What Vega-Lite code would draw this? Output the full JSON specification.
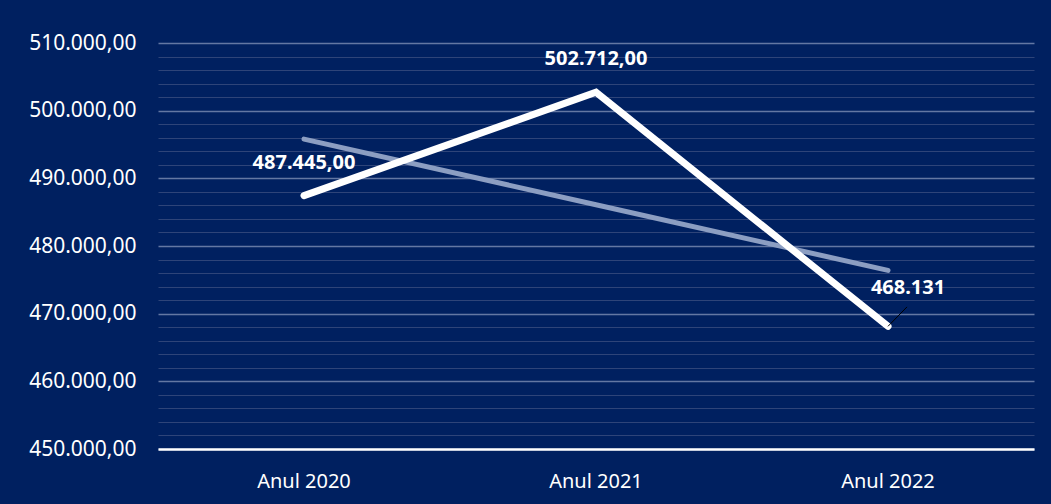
{
  "$schema": "https://vega.github.io/schema/vega-lite/v6.json",
  "width": 876,
  "height": 406,
  "autosize": "none",
  "padding": {"left": 158, "top": 43, "right": 17, "bottom": 55},
  "background": "#002060",
  "config": {
    "locale": {"number": {"decimal": ",", "thousands": ".", "grouping": [3], "currency": ["", ""]}},
    "view": {"stroke": null},
    "font": "Noto Sans"
  },
  "data": {
    "values": [
      {"an": "Anul 2020", "serie": "valoare", "valoare": 487445, "eticheta": "487.445,00"},
      {"an": "Anul 2021", "serie": "valoare", "valoare": 502712, "eticheta": "502.712,00"},
      {"an": "Anul 2022", "serie": "valoare", "valoare": 468131, "eticheta": "468.131"},
      {"an": "Anul 2020", "serie": "trend", "valoare": 495800, "eticheta": ""},
      {"an": "Anul 2021", "serie": "trend", "valoare": 486100, "eticheta": ""},
      {"an": "Anul 2022", "serie": "trend", "valoare": 476400, "eticheta": ""}
    ]
  },
  "encoding": {
    "x": {
      "field": "an",
      "type": "nominal",
      "sort": null,
      "axis": {
        "title": null,
        "labelAngle": 0,
        "labelColor": "white",
        "labelFontSize": 20,
        "labelPadding": 22,
        "ticks": false,
        "domain": true,
        "domainColor": "white",
        "domainWidth": 2.5,
        "grid": false
      }
    },
    "y": {
      "field": "valoare",
      "type": "quantitative",
      "scale": {"domain": [450000, 510000], "nice": false, "zero": false},
      "axis": {
        "title": null,
        "values": [450000, 452000, 454000, 456000, 458000, 460000, 462000, 464000, 466000, 468000, 470000, 472000, 474000, 476000, 478000, 480000, 482000, 484000, 486000, 488000, 490000, 492000, 494000, 496000, 498000, 500000, 502000, 504000, 506000, 508000, 510000],
        "format": ",.2f",
        "labelExpr": "datum.value % 10000 === 0 ? datum.label : ''",
        "labelColor": "white",
        "labelFontSize": 21,
        "labelPadding": 22,
        "ticks": false,
        "domain": false,
        "grid": true,
        "gridColor": {"condition": {"test": "datum.value % 10000 === 0", "value": "#6377A3"}, "value": "#2E4479"},
        "gridWidth": {"condition": {"test": "datum.value % 10000 === 0", "value": 1.5}, "value": 1.2}
      }
    }
  },
  "layer": [
    {
      "transform": [{"filter": "datum.serie === 'trend'"}],
      "mark": {"type": "line", "color": "#8C9EC2", "strokeWidth": 5, "strokeCap": "round"}
    },
    {
      "transform": [{"filter": "datum.serie === 'valoare'"}],
      "mark": {"type": "line", "color": "white", "strokeWidth": 7, "strokeCap": "round", "strokeJoin": "miter"}
    },
    {
      "transform": [{"filter": "datum.an === 'Anul 2022' && datum.serie === 'valoare'"}],
      "mark": {"type": "rule", "color": "black", "strokeWidth": 1, "x2Offset": 19},
      "encoding": {
        "x2": {"field": "an"},
        "y2": {"datum": 471000}
      }
    },
    {
      "transform": [{"filter": "datum.serie === 'valoare' && datum.an !== 'Anul 2022'"}],
      "mark": {"type": "text", "color": "white", "fontSize": 20, "fontWeight": "bold", "dy": -33, "baseline": "middle", "align": "center"},
      "encoding": {"text": {"field": "eticheta"}}
    },
    {
      "transform": [{"filter": "datum.serie === 'valoare' && datum.an === 'Anul 2022'"}],
      "mark": {"type": "text", "color": "white", "fontSize": 20, "fontWeight": "bold", "dy": -38, "dx": 20, "baseline": "middle", "align": "center"},
      "encoding": {"text": {"field": "eticheta"}}
    }
  ]
}
